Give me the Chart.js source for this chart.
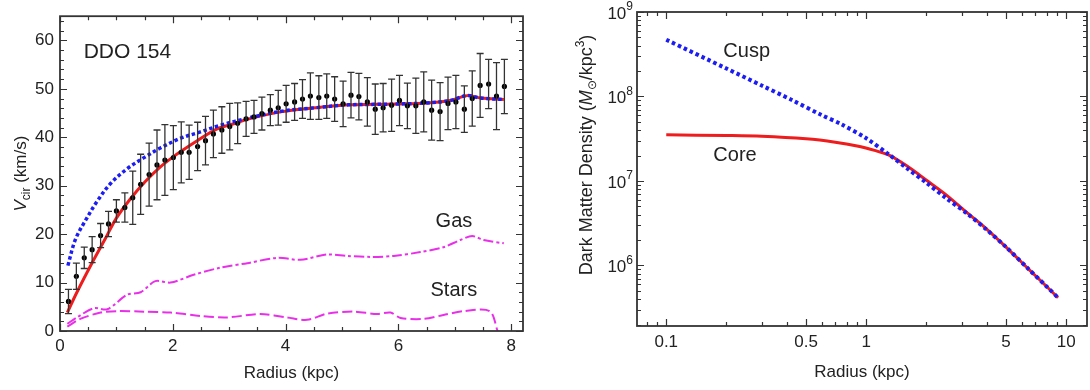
<!DOCTYPE html>
<html>
<head>
<meta charset="utf-8">
<script src="https://cdn.jsdelivr.net/npm/chart.js@4.4.1/dist/chart.umd.min.js"></script>
<style>
  body { margin: 0; background: #fff; }
  .panel { position: absolute; top: 0; }
</style>
</head>
<body>
<div class="panel" style="left:0"><canvas id="rot" width="540" height="390"></canvas></div>
<div class="panel" style="left:540px"><canvas id="dens" width="550" height="390"></canvas></div>
<script>
// left panel: DDO 154 rotation curve
const radius = [0.15,0.29,0.43,0.57,0.72,0.86,1.00,1.15,1.29,1.43,1.58,1.72,1.86,2.01,2.15,2.29,2.44,2.58,2.72,2.87,
  3.01,3.15,3.30,3.44,3.58,3.73,3.87,4.01,4.16,4.30,4.44,4.59,4.73,4.87,5.02,5.16,5.30,5.45,5.59,5.73,
  5.88,6.02,6.16,6.31,6.45,6.59,6.74,6.88,7.02,7.17,7.31,7.45,7.60,7.74,7.88];
const vObs = [6.1,11.3,15.1,16.8,19.7,22.1,24.8,25.5,27.5,30.3,32.3,34.3,35.3,35.8,36.9,36.9,38.1,39.3,40.7,41.5,
  42.2,42.9,43.8,44.2,44.9,45.6,46.1,46.9,47.3,47.9,48.5,48.2,48.5,47.9,46.9,48.7,48.4,47.3,45.8,46.1,
  46.6,47.6,46.5,46.5,47.3,45.6,45.3,47.0,47.3,45.8,48.0,50.7,51.0,48.5,50.5];
const vErr = [2.5,2.7,2.2,2.7,2.5,2.6,2.3,3.0,5.5,6.2,6.5,7.2,7.3,6.6,6.3,5.6,5.0,5.0,4.9,4.8,
  4.8,4.2,3.6,3.4,3.4,3.2,3.6,3.8,3.8,4.0,4.8,4.5,4.6,4.6,4.7,4.7,4.8,5.0,5.2,5.0,
  5.4,5.2,4.7,5.7,6.2,6.2,6.0,5.4,5.5,4.8,5.7,6.6,5.1,6.9,5.6];

const coreR = [0.13,0.3,0.57,0.8,1.0,1.25,1.5,1.75,2.0,2.37,2.76,3.08,3.35,3.94,4.53,5.12,5.59,6.1,6.5,6.92,7.22,7.46,7.87];
const coreV = [3.8,8.0,14.1,19.0,23.3,27.3,30.7,33.6,35.9,38.8,41.6,42.8,43.8,45.3,46.1,46.7,46.8,46.9,47.1,47.6,48.6,48.1,47.8];
const cuspR = [0.14,0.27,0.45,0.66,0.9,1.19,1.49,1.78,2.14,2.49,2.85,3.35,3.94,4.53,5.12,5.59,6.1,6.5,6.92,7.22,7.46,7.87];
const cuspV = [13.5,18.8,22.8,26.8,30.5,33.5,35.8,37.8,39.8,41.1,42.5,44.0,45.4,46.1,46.7,46.8,46.9,47.1,47.6,48.6,48.1,47.8];
const gasR = [0.13,0.3,0.6,0.84,1.19,1.43,1.69,1.96,2.37,2.85,3.32,3.85,4.26,4.74,5.09,5.5,5.92,6.39,6.8,7.1,7.31,7.51,7.87];
const gasV = [1.5,2.8,4.7,4.5,7.5,8.0,10.3,10.0,11.6,13.1,14.0,15.1,14.7,15.8,15.5,15.3,15.5,16.3,17.3,18.8,19.6,18.8,18.1];
const starsR = [0.13,0.36,0.72,1.01,1.49,1.96,2.49,2.96,3.55,4.03,4.38,4.74,5.21,5.62,5.86,6.04,6.45,6.8,7.16,7.62,7.76];
const starsV = [0.9,2.5,3.8,4.1,4.0,3.8,3.1,2.8,3.5,2.8,2.3,3.6,4.0,3.5,3.8,2.7,2.5,3.3,4.1,4.1,0];

const rTicks = [0,2,4,6,8];
const rMinor = [0.5,1,1.5,2.5,3,3.5,4.5,5,5.5,6.5,7,7.5];
const vTicks = [0,10,20,30,40,50,60];
const vMinor = [2,4,6,8,12,14,16,18,22,24,26,28,32,34,36,38,42,44,46,48,52,54,56,58,62,64];

// right panel: dark matter density profiles
const densCoreR = [0.1,0.2,0.3,0.5,0.7,0.9,1.1,1.3,1.6,2.0,2.5,3.2,4.0,5.0,6.5,8.0,9.1];
const densCore = [3.52e7,3.45e7,3.38e7,3.15e7,2.88e7,2.6e7,2.3e7,2.02e7,1.5e7,1.02e7,6.9e6,4.2e6,2.7e6,1.65e6,9.0e5,5.6e5,4.15e5];
const densCuspR = [0.1,0.2,0.3,0.42,0.6,0.75,1.0,1.3,1.6,2.0,2.5,3.2,4.0,5.0,6.5,8.0,9.1];
const densCusp = [4.7e8,2.14e8,1.35e8,9.2e7,6.0e7,4.7e7,3.2e7,2.05e7,1.41e7,9.5e6,6.3e6,4.1e6,2.65e6,1.65e6,9.0e5,5.6e5,4.15e5];

const densXTicks = [0.1,0.5,1,5,10];
const densXMinor = [0.08,0.09,0.2,0.3,0.4,0.6,0.7,0.8,0.9,2,3,4,6,7,8,9];
const densYTicks = [1e6,1e7,1e8,1e9];
const densYMinor = [2e5,3e5,4e5,5e5,6e5,7e5,8e5,9e5,2e6,3e6,4e6,5e6,6e6,7e6,8e6,9e6,
  2e7,3e7,4e7,5e7,6e7,7e7,8e7,9e7,2e8,3e8,4e8,5e8,6e8,7e8,8e8,9e8];

const FONT = "'Liberation Sans', Arial, sans-serif";
const INK = "#222";

const pts = (xs, ys) => xs.map((x, i) => ({x: x, y: ys[i]}));

// frame with inward ticks on all four sides
const frameTicks = {
    id: "frameTicks",
    afterDraw(chart, args, opts) {
        const ctx = chart.ctx;
        const a = chart.chartArea;
        const sx = chart.scales.x, sy = chart.scales.y;
        ctx.save();
        ctx.strokeStyle = "#333";
        ctx.lineWidth = 1.2;
        ctx.beginPath();
        const xt = (vals, len) => {
            for (let v of vals) {
                const p = Math.round(sx.getPixelForValue(v)) + 0.5;
                ctx.moveTo(p, a.bottom); ctx.lineTo(p, a.bottom - len);
                ctx.moveTo(p, a.top); ctx.lineTo(p, a.top + len);
            }
        };
        const yt = (vals, len) => {
            for (let v of vals) {
                const p = Math.round(sy.getPixelForValue(v)) + 0.5;
                ctx.moveTo(a.left, p); ctx.lineTo(a.left + len, p);
                ctx.moveTo(a.right, p); ctx.lineTo(a.right - len, p);
            }
        };
        xt(opts.xMajor, 7); xt(opts.xMinor, 4);
        yt(opts.yMajor, 7); yt(opts.yMinor, 4);
        ctx.stroke();
        ctx.lineWidth = 1.8;
        ctx.strokeRect(a.left, a.top, a.right - a.left, a.bottom - a.top);
        ctx.restore();
    }
};

// vertical error bars for dataset 0
const errorBars = {
    id: "errorBars",
    afterDatasetsDraw(chart) {
        const ctx = chart.ctx;
        const a = chart.chartArea;
        const ds = chart.data.datasets[0];
        const sx = chart.scales.x, sy = chart.scales.y;
        ctx.save();
        ctx.beginPath();
        ctx.rect(a.left, a.top, a.right - a.left, a.bottom - a.top);
        ctx.clip();
        ctx.strokeStyle = "#333";
        ctx.lineWidth = 1.3;
        ctx.beginPath();
        ds.data.forEach((p, i) => {
            const x = sx.getPixelForValue(p.x);
            const y1 = sy.getPixelForValue(p.y + ds.err[i]);
            const y2 = sy.getPixelForValue(p.y - ds.err[i]);
            ctx.moveTo(x, y1); ctx.lineTo(x, y2);
            ctx.moveTo(x - 3.5, y1); ctx.lineTo(x + 3.5, y1);
            ctx.moveTo(x - 3.5, y2); ctx.lineTo(x + 3.5, y2);
        });
        ctx.stroke();
        ctx.restore();
    }
};

// draws a row of text pieces (normal / italic / sub / superscript) centred at 0
const drawPieces = (ctx, pieces) => {
    let total = 0;
    for (let p of pieces) {
        ctx.font = p.f + " " + FONT;
        p.w = ctx.measureText(p.t).width;
        total += p.w;
    }
    let x = -total / 2;
    ctx.textAlign = "left";
    ctx.textBaseline = "alphabetic";
    for (let p of pieces) {
        ctx.font = p.f + " " + FONT;
        ctx.fillText(p.t, x, p.dy);
        x += p.w;
    }
};

const rotText = {
    id: "rotText",
    afterDraw(chart) {
        const ctx = chart.ctx;
        const a = chart.chartArea;
        const sx = chart.scales.x, sy = chart.scales.y;
        ctx.save();
        ctx.fillStyle = INK;
        ctx.font = "17px " + FONT;
        ctx.textAlign = "center";
        ctx.textBaseline = "middle";
        ctx.fillText("Radius (kpc)", (a.left + a.right) / 2, 373);

        ctx.save();
        ctx.translate(20, (a.top + a.bottom) / 2);
        ctx.rotate(-Math.PI / 2);
        drawPieces(ctx, [
            {t: "V", f: "italic 17px", dy: 6},
            {t: "cir", f: "12px", dy: 10},
            {t: " (km/s)", f: "17px", dy: 6}
        ]);
        ctx.restore();

        ctx.textAlign = "left";
        ctx.textBaseline = "middle";
        ctx.font = "21px " + FONT;
        ctx.fillText("DDO 154", sx.getPixelForValue(0.42), sy.getPixelForValue(57.5));
        ctx.font = "20px " + FONT;
        ctx.fillText("Gas", sx.getPixelForValue(6.66), sy.getPixelForValue(22.7));
        ctx.fillText("Stars", sx.getPixelForValue(6.57), sy.getPixelForValue(8.3));
        ctx.restore();
    }
};

const densText = {
    id: "densText",
    afterDraw(chart) {
        const ctx = chart.ctx;
        const a = chart.chartArea;
        const sx = chart.scales.x, sy = chart.scales.y;
        ctx.save();
        ctx.fillStyle = INK;
        ctx.font = "17px " + FONT;
        ctx.textAlign = "center";
        ctx.textBaseline = "middle";
        ctx.fillText("Radius (kpc)", (a.left + a.right) / 2, 372);

        // y tick labels as 10^n
        for (let v of densYTicks) {
            const y = sy.getPixelForValue(v);
            const e = String(Math.round(Math.log10(v)));
            ctx.font = "12px " + FONT;
            const ew = ctx.measureText(e).width;
            ctx.textAlign = "right";
            ctx.textBaseline = "middle";
            ctx.fillText(e, a.left - 4, y - 5);
            ctx.font = "17px " + FONT;
            ctx.fillText("10", a.left - 4 - ew, y + 2);
        }

        ctx.save();
        ctx.translate(46, 155);
        ctx.rotate(-Math.PI / 2);
        drawPieces(ctx, [
            {t: "Dark Matter Density (", f: "18px", dy: 6},
            {t: "M", f: "italic 18px", dy: 6},
            {t: "\u2299", f: "12px", dy: 10},
            {t: "/kpc", f: "18px", dy: 6},
            {t: "3", f: "12px", dy: -2},
            {t: ")", f: "18px", dy: 6}
        ]);
        ctx.restore();

        ctx.textAlign = "left";
        ctx.textBaseline = "middle";
        ctx.font = "20px " + FONT;
        ctx.fillText("Cusp", sx.getPixelForValue(0.193), sy.getPixelForValue(3.37e8));
        ctx.fillText("Core", sx.getPixelForValue(0.172), sy.getPixelForValue(2.03e7));
        ctx.restore();
    }
};

const tickFont = {family: FONT, size: 17};

new Chart(document.getElementById("rot"), {
    type: "scatter",
    data: {
        datasets: [
            {
                data: pts(radius, vObs),
                err: vErr,
                pointRadius: 2.6,
                pointBackgroundColor: "#000",
                pointBorderWidth: 0,
                showLine: false
            },
            {
                data: pts(cuspR, cuspV),
                showLine: true,
                borderColor: "#1c1cf5",
                borderWidth: 3.5,
                borderDash: [3.5, 2.6],
                pointRadius: 0,
                tension: 0.35
            },
            {
                data: pts(coreR, coreV),
                showLine: true,
                borderColor: "#ee1c1c",
                borderWidth: 3,
                pointRadius: 0,
                tension: 0.35
            },
            {
                data: pts(gasR, gasV),
                showLine: true,
                borderColor: "#e830e8",
                borderWidth: 2,
                borderDash: [10, 3, 3, 3],
                pointRadius: 0,
                tension: 0.3
            },
            {
                data: pts(starsR, starsV),
                showLine: true,
                borderColor: "#e830e8",
                borderWidth: 2,
                borderDash: [10, 4],
                pointRadius: 0,
                tension: 0.3
            }
        ]
    },
    options: {
        responsive: false,
        animation: false,
        layout: {padding: {top: 5, right: 17, left: 0, bottom: 0}, autoPadding: false},
        plugins: {
            legend: {display: false},
            tooltip: {enabled: false},
            frameTicks: {xMajor: rTicks, xMinor: rMinor, yMajor: vTicks, yMinor: vMinor}
        },
        scales: {
            x: {
                type: "linear",
                min: 0,
                max: 8.21,
                afterBuildTicks: s => { s.ticks = rTicks.map(v => ({value: v})); },
                afterFit: s => { s.height = 59; },
                grid: {display: false, drawTicks: false},
                border: {display: false},
                ticks: {font: tickFont, color: INK, padding: 5, maxRotation: 0}
            },
            y: {
                type: "linear",
                min: 0,
                max: 65,
                afterBuildTicks: s => { s.ticks = vTicks.map(v => ({value: v})); },
                afterFit: s => { s.width = 60; },
                grid: {display: false, drawTicks: false},
                border: {display: false},
                ticks: {font: tickFont, color: INK, padding: 6}
            }
        }
    },
    plugins: [errorBars, frameTicks, rotText]
});

new Chart(document.getElementById("dens"), {
    type: "scatter",
    data: {
        datasets: [
            {
                data: pts(densCuspR, densCusp),
                showLine: true,
                borderColor: "#1c1cf5",
                borderWidth: 4,
                borderDash: [3.5, 3],
                pointRadius: 0,
                tension: 0.3
            },
            {
                data: pts(densCoreR, densCore),
                showLine: true,
                borderColor: "#ee1c1c",
                borderWidth: 3,
                pointRadius: 0,
                tension: 0.3
            }
        ]
    },
    options: {
        responsive: false,
        animation: false,
        layout: {padding: {top: 12, right: 3, left: 0, bottom: 0}, autoPadding: false},
        plugins: {
            legend: {display: false},
            tooltip: {enabled: false},
            frameTicks: {xMajor: densXTicks, xMinor: densXMinor, yMajor: densYTicks, yMinor: densYMinor}
        },
        scales: {
            x: {
                type: "logarithmic",
                min: 0.0714,
                max: 12.7,
                afterBuildTicks: s => { s.ticks = densXTicks.map(v => ({value: v})); },
                afterFit: s => { s.height = 64; },
                grid: {display: false, drawTicks: false},
                border: {display: false},
                ticks: {font: tickFont, color: INK, padding: 6, maxRotation: 0, callback: v => String(v)}
            },
            y: {
                type: "logarithmic",
                min: 1.92e5,
                max: 1e9,
                afterBuildTicks: s => { s.ticks = densYTicks.map(v => ({value: v})); },
                afterFit: s => { s.width = 97; },
                grid: {display: false, drawTicks: false},
                border: {display: false},
                ticks: {display: false}
            }
        }
    },
    plugins: [frameTicks, densText]
});
</script>
</body>
</html>
